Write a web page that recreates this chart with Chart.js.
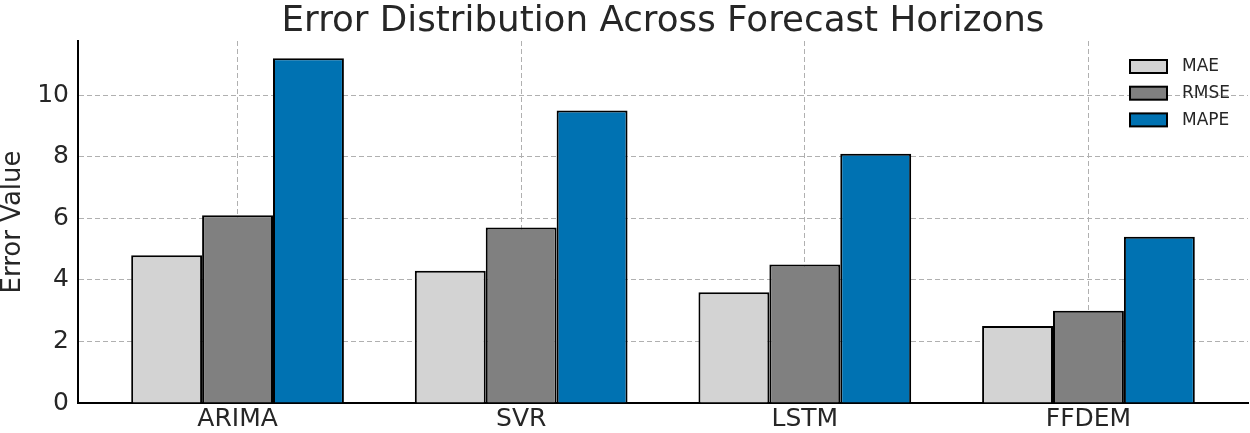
<!DOCTYPE html>
<html>
<head>
<meta charset="utf-8">
<script src="https://cdn.jsdelivr.net/npm/chart.js@4/dist/chart.umd.min.js"></script>
<style>
  html, body { margin: 0; padding: 0; background: #fff; }
  #wrap { width: 1250px; height: 433px; }
</style>
</head>
<body>
<div id="wrap"><canvas id="chart"></canvas></div>
<script>
const categories = ["ARIMA", "SVR", "LSTM", "FFDEM"];
const maeValues = [4.8, 4.3, 3.6, 2.5];
const rmseValues = [6.1, 5.7, 4.5, 3.0];
const mapeValues = [11.2, 9.5, 8.1, 5.4];
const yTicks = [0, 2, 4, 6, 8, 10];
const titleText = "Error Distribution Across Forecast Horizons";

const FONT = "'DejaVu Sans', sans-serif";
const TEXT = "#262626";

// title centred over the plot area, legend inside the plot top right
const extras = {
  id: "extras",
  afterDraw(chart) {
    const ctx = chart.ctx;
    const area = chart.chartArea;
    ctx.save();
    ctx.font = "35.7px " + FONT;
    ctx.fillStyle = TEXT;
    ctx.textAlign = "center";
    ctx.textBaseline = "alphabetic";
    ctx.fillText(titleText, (area.left + area.right) / 2, 31);

    const x = area.right - 118;
    let y = area.top + 25;
    ctx.font = "17px " + FONT;
    ctx.textAlign = "left";
    ctx.textBaseline = "middle";
    chart.data.datasets.forEach((ds) => {
      ctx.fillStyle = ds.backgroundColor;
      ctx.fillRect(x, y - 6, 37, 13);
      ctx.lineWidth = 2;
      ctx.strokeStyle = "#000";
      ctx.strokeRect(x, y - 6, 37, 13);
      ctx.fillStyle = TEXT;
      ctx.fillText(ds.label, x + 52, y + 1);
      y += 26.7;
    });
    ctx.restore();
  },
};

const toPoints = (vals) => vals.map((v, i) => ({ x: i, y: v }));

const chart = new Chart("chart", {
  type: "bar",
  data: {
    datasets: [
      { label: "MAE", data: toPoints(maeValues), backgroundColor: "#d3d3d3" },
      { label: "RMSE", data: toPoints(rmseValues), backgroundColor: "#808080" },
      { label: "MAPE", data: toPoints(mapeValues), backgroundColor: "#0072b2" },
    ].map((d) => ({
      ...d,
      borderColor: "#000",
      borderWidth: 2,
      categoryPercentage: 0.75,
      barPercentage: 1,
    })),
  },
  options: {
    responsive: true,
    maintainAspectRatio: false,
    animation: false,
    devicePixelRatio: 1,
    layout: { padding: { left: 0, right: 2, top: 41, bottom: 0 } },
    plugins: {
      legend: { display: false },
      tooltip: { enabled: false },
      title: { display: false },
    },
    scales: {
      x: {
        type: "linear",
        offset: false,
        min: -0.5625,
        max: 3.5625,
        afterBuildTicks: (s) => {
          s.ticks = categories.map((_, i) => ({ value: i }));
        },
        afterFit: (s) => { s.height = 30; },
        ticks: {
          callback: (v) => categories[v],
          color: TEXT,
          font: { family: FONT, size: 25, lineHeight: 1.1 },
          padding: 3,
          maxRotation: 0,
        },
        grid: {
          offset: false,
          color: "#b0b0b0",
          lineWidth: 1,
          drawTicks: false,
        },
        border: { color: "#000", width: 2, dash: [5, 3] },
      },
      y: {
        min: 0,
        max: 11.76,
        afterBuildTicks: (s) => {
          s.ticks = yTicks.map((v) => ({ value: v }));
        },
        afterFit: (s) => { s.width = 78; },
        title: {
          display: true,
          text: "Error Value",
          color: TEXT,
          font: { family: FONT, size: 26, lineHeight: 1 },
          padding: 0,
        },
        ticks: {
          color: TEXT,
          font: { family: FONT, size: 25 },
          padding: 9,
        },
        grid: {
          color: "#b0b0b0",
          lineWidth: 1,
          drawTicks: false,
        },
        border: { color: "#000", width: 2, dash: [5, 3] },
      },
    },
  },
  plugins: [extras],
});
</script>
</body>
</html>
